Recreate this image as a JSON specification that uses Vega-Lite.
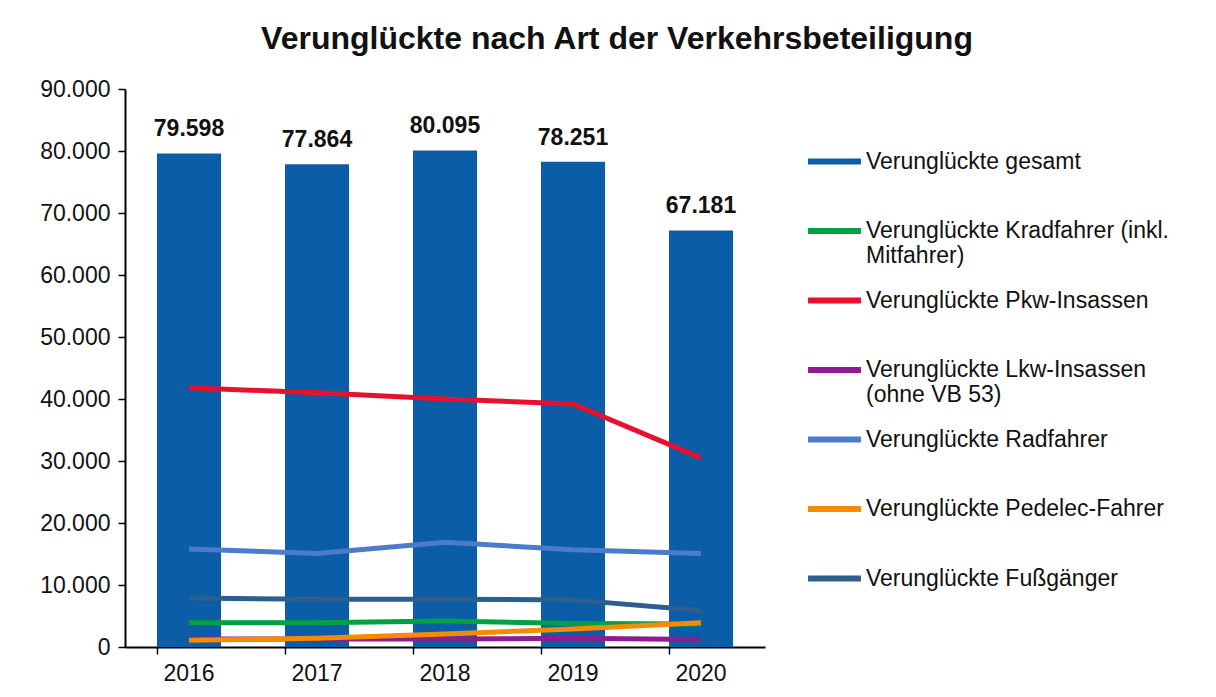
{
  "$schema": "https://vega.github.io/schema/vega-lite/v6.json",
  "width": 640,
  "height": 558,
  "autosize": "none",
  "padding": {"left": 125, "top": 89, "right": 451, "bottom": 50},
  "background": "white",
  "config": {
    "locale": {"number": {"decimal": ",", "thousands": ".", "grouping": [3], "currency": ["", " €"]}},
    "view": {"stroke": null},
    "font": "Liberation Sans"
  },
  "title": {
    "text": "Verunglückte nach Art der Verkehrsbeteiligung",
    "fontSize": 32,
    "fontWeight": "bold",
    "font": "Liberation Sans",
    "color": "#111111",
    "anchor": "middle",
    "dx": 172,
    "offset": 22
  },
  "data": {
    "values": [
      {"year": "2016", "series": "Verunglückte gesamt", "value": 79598},
      {"year": "2017", "series": "Verunglückte gesamt", "value": 77864},
      {"year": "2018", "series": "Verunglückte gesamt", "value": 80095},
      {"year": "2019", "series": "Verunglückte gesamt", "value": 78251},
      {"year": "2020", "series": "Verunglückte gesamt", "value": 67181},
      {"year": "2016", "series": "Verunglückte Kradfahrer (inkl. Mitfahrer)", "value": 3900},
      {"year": "2017", "series": "Verunglückte Kradfahrer (inkl. Mitfahrer)", "value": 3900},
      {"year": "2018", "series": "Verunglückte Kradfahrer (inkl. Mitfahrer)", "value": 4200},
      {"year": "2019", "series": "Verunglückte Kradfahrer (inkl. Mitfahrer)", "value": 3800},
      {"year": "2020", "series": "Verunglückte Kradfahrer (inkl. Mitfahrer)", "value": 3700},
      {"year": "2016", "series": "Verunglückte Pkw-Insassen", "value": 41800},
      {"year": "2017", "series": "Verunglückte Pkw-Insassen", "value": 41000},
      {"year": "2018", "series": "Verunglückte Pkw-Insassen", "value": 40000},
      {"year": "2019", "series": "Verunglückte Pkw-Insassen", "value": 39200},
      {"year": "2020", "series": "Verunglückte Pkw-Insassen", "value": 30500},
      {"year": "2016", "series": "Verunglückte Lkw-Insassen (ohne VB 53)", "value": 1300},
      {"year": "2017", "series": "Verunglückte Lkw-Insassen (ohne VB 53)", "value": 1300},
      {"year": "2018", "series": "Verunglückte Lkw-Insassen (ohne VB 53)", "value": 1300},
      {"year": "2019", "series": "Verunglückte Lkw-Insassen (ohne VB 53)", "value": 1400},
      {"year": "2020", "series": "Verunglückte Lkw-Insassen (ohne VB 53)", "value": 1200},
      {"year": "2016", "series": "Verunglückte Radfahrer", "value": 15800},
      {"year": "2017", "series": "Verunglückte Radfahrer", "value": 15100},
      {"year": "2018", "series": "Verunglückte Radfahrer", "value": 16900},
      {"year": "2019", "series": "Verunglückte Radfahrer", "value": 15700},
      {"year": "2020", "series": "Verunglückte Radfahrer", "value": 15100},
      {"year": "2016", "series": "Verunglückte Pedelec-Fahrer", "value": 1100},
      {"year": "2017", "series": "Verunglückte Pedelec-Fahrer", "value": 1400},
      {"year": "2018", "series": "Verunglückte Pedelec-Fahrer", "value": 2100},
      {"year": "2019", "series": "Verunglückte Pedelec-Fahrer", "value": 2900},
      {"year": "2020", "series": "Verunglückte Pedelec-Fahrer", "value": 3900},
      {"year": "2016", "series": "Verunglückte Fußgänger", "value": 7900},
      {"year": "2017", "series": "Verunglückte Fußgänger", "value": 7700},
      {"year": "2018", "series": "Verunglückte Fußgänger", "value": 7700},
      {"year": "2019", "series": "Verunglückte Fußgänger", "value": 7600},
      {"year": "2020", "series": "Verunglückte Fußgänger", "value": 5900}
    ]
  },
  "encoding": {
    "x": {
      "field": "year", "type": "ordinal", "title": null,
      "scale": {"paddingInner": 0.5, "paddingOuter": 0.25},
      "axis": {
        "labelAngle": 0, "labelFontSize": 23, "labelColor": "#111111", "labelPadding": 8,
        "domainColor": "#000000", "domainWidth": 2, "tickColor": "#000000", "tickWidth": 1.5, "tickSize": 7,
        "bandPosition": 0
      }
    },
    "y": {
      "field": "value", "type": "quantitative", "title": null,
      "scale": {"domain": [0, 90000]},
      "axis": {
        "values": [0, 10000, 20000, 30000, 40000, 50000, 60000, 70000, 80000, 90000],
        "format": ",d", "grid": false, "labelFontSize": 23, "labelColor": "#111111", "labelPadding": 8,
        "domainColor": "#000000", "domainWidth": 2, "tickColor": "#000000", "tickWidth": 1.5, "tickSize": 7
      }
    }
  },
  "layer": [
    {
      "transform": [{"filter": "datum.series === 'Verunglückte gesamt'"}],
      "mark": {"type": "bar"},
      "encoding": {
        "color": {
          "field": "series", "type": "nominal",
          "scale": {
            "domain": ["Verunglückte gesamt", "Verunglückte Kradfahrer (inkl. Mitfahrer)", "Verunglückte Pkw-Insassen", "Verunglückte Lkw-Insassen (ohne VB 53)", "Verunglückte Radfahrer", "Verunglückte Pedelec-Fahrer", "Verunglückte Fußgänger"],
            "range": ["#0B5DA8", "#00A045", "#E8112D", "#8E1C8E", "#4C7BCB", "#F58B00", "#2C5E8E"]
          },
          "legend": {
            "title": null,
            "orient": "none",
            "legendX": 680,
            "legendY": 43,
            "symbolType": "stroke",
            "symbolSize": 2800,
            "symbolStrokeWidth": 6,
            "labelFontSize": 23,
            "labelColor": "#111111",
            "labelLimit": 420,
            "labelOffset": 2,
            "rowPadding": 2.5,
            "labelExpr": "datum.label === 'Verunglückte Kradfahrer (inkl. Mitfahrer)' ? ['Verunglückte Kradfahrer (inkl.', 'Mitfahrer)'] : datum.label === 'Verunglückte Lkw-Insassen (ohne VB 53)' ? ['Verunglückte Lkw-Insassen', '(ohne VB 53)'] : [datum.label, ' ']"
          }
        }
      }
    },
    {
      "transform": [{"filter": "datum.series === 'Verunglückte gesamt'"}],
      "mark": {"type": "text", "dy": -24, "fontSize": 23, "fontWeight": "bold", "color": "#111111"},
      "encoding": {"text": {"field": "value", "type": "quantitative", "format": ",d"}}
    },
    {
      "transform": [{"filter": "datum.series !== 'Verunglückte gesamt'"}],
      "mark": {"type": "line", "strokeWidth": 5},
      "encoding": {"color": {"field": "series", "type": "nominal"}}
    }
  ]
}
